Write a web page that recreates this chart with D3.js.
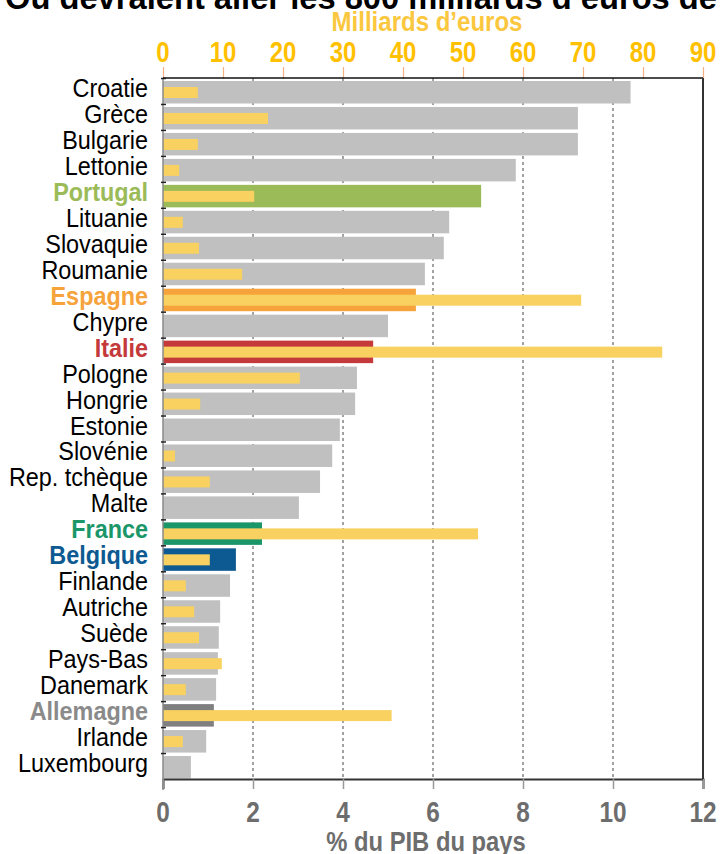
<!DOCTYPE html>
<html>
<head>
<meta charset="utf-8">
<script src="https://cdn.jsdelivr.net/npm/d3@7"></script>
<style>
  body { margin: 0; background: #fff; }
  svg { display: block; font-family: 'Liberation Sans', Arial, sans-serif; }
</style>
</head>
<body>
<div id="chart"></div>
<script>
////////////////////////////////////////////////////////////////////////
// data

let countries = [
  'Croatie', 'Grèce', 'Bulgarie', 'Lettonie', 'Portugal', 'Lituanie',
  'Slovaquie', 'Roumanie', 'Espagne', 'Chypre', 'Italie', 'Pologne',
  'Hongrie', 'Estonie', 'Slovénie', 'Rep. tchèque', 'Malte', 'France',
  'Belgique', 'Finlande', 'Autriche', 'Suède', 'Pays-Bas', 'Danemark',
  'Allemagne', 'Irlande', 'Luxembourg'
]

// % du PIB du pays (bottom axis)
let pibPct = [
  10.39, 9.22, 9.22, 7.84, 7.07, 6.36,
  6.24, 5.82, 5.62, 5.0, 4.67, 4.31,
  4.27, 3.93, 3.76, 3.49, 3.02, 2.2,
  1.62, 1.49, 1.27, 1.24, 1.22, 1.18,
  1.13, 0.96, 0.62
]

// milliards d'euros (top axis), null = no bar
let milliards = [
  5.8, 17.5, 5.8, 2.7, 15.2, 3.3,
  6.0, 13.2, 69.7, null, 83.2, 22.8,
  6.2, null, 2.0, 7.8, null, 52.5,
  7.8, 3.8, 5.2, 6.0, 9.8, 3.8,
  38.1, 3.3, null
]

let pctTicks = [0, 2, 4, 6, 8, 10, 12]
let eurTicks = [0, 10, 20, 30, 40, 50, 60, 70, 80, 90]

let titleText = 'Où devraient aller les 800 milliards d’euros de'
let topTitle = 'Milliards d’euros'
let bottomTitle = '% du PIB du pays'

// countries drawn in their own colour
let highlight = {
  Portugal: '#9BBB59',
  Espagne: '#F6A33B',
  Italie: '#C4393A',
  France: '#1B9669',
  Belgique: '#0D5A92',
  Allemagne: '#7F7F7F'
}
let labelColor = {
  Allemagne: '#8A8A8A'
}

let rows = countries.map(function (c, i) {
  return { country: c, pct: pibPct[i], eur: milliards[i] }
})

////////////////////////////////////////////////////////////////////////
// svg + scales

let width = 722
let height = 854
let plotLeft = 163
let plotRight = 703
let plotTop = 78
let plotBottom = 779

let svg = d3
  .select('#chart')
  .append('svg')
  .attr('width', width)
  .attr('height', height)

let xPct = d3.scaleLinear().domain([0, 12]).range([plotLeft, plotRight])
let xEur = d3.scaleLinear().domain([0, 90]).range([plotLeft, plotRight])
let y = d3.scaleBand().domain(countries).range([plotTop, plotBottom])

// condensed text helper
function ctext (g, x, yy, sx) {
  return g
    .append('text')
    .attr('transform', 'translate(' + x + ',' + yy + ') scale(' + sx + ',1)')
}

// title, mostly cut off by the top edge
svg
  .append('text')
  .attr('x', 5)
  .attr('y', 9)
  .attr('font-size', 34)
  .attr('font-weight', 'bold')
  .attr('fill', '#000')
  .attr('textLength', 712)
  .attr('lengthAdjust', 'spacingAndGlyphs')
  .text(titleText)

////////////////////////////////////////////////////////////////////////
// grid lines

svg
  .append('g')
  .selectAll('line')
  .data([2, 4, 6, 8, 10])
  .enter()
  .append('line')
  .attr('x1', d => xPct(d))
  .attr('x2', d => xPct(d))
  .attr('y1', plotTop)
  .attr('y2', plotBottom)
  .attr('stroke', '#444')
  .attr('stroke-width', 1)
  .attr('stroke-dasharray', '3,3')

////////////////////////////////////////////////////////////////////////
// bars

let bars = svg.append('g')

bars
  .selectAll('.pct')
  .data(rows)
  .enter()
  .append('rect')
  .attr('class', 'pct')
  .attr('x', xPct(0))
  .attr('y', d => y(d.country) + 3)
  .attr('width', d => xPct(d.pct) - xPct(0))
  .attr('height', 22.5)
  .attr('fill', d => highlight[d.country] || '#C0C0C0')

bars
  .selectAll('.eur')
  .data(rows.filter(d => d.eur !== null))
  .enter()
  .append('rect')
  .attr('class', 'eur')
  .attr('x', xEur(0))
  .attr('y', d => y(d.country) + 9)
  .attr('width', d => xEur(d.eur) - xEur(0))
  .attr('height', 11)
  .attr('fill', '#F8D160')

////////////////////////////////////////////////////////////////////////
// frame and axes

// top axis (milliards)
let topAxis = svg
  .append('g')
  .attr('transform', 'translate(0,' + (plotTop + 1) + ')')
  .call(d3.axisTop(xEur).tickValues(eurTicks).tickSize(12).tickFormat(''))
topAxis.select('.domain').remove()
topAxis.selectAll('.tick line').attr('stroke', '#F4B183').attr('stroke-width', 1.2)

eurTicks.forEach(function (t) {
  ctext(svg, xEur(t), 62, 0.8)
    .attr('text-anchor', 'middle')
    .attr('font-size', 30)
    .attr('font-weight', 'bold')
    .attr('fill', '#FFC000')
    .text(t)
})

ctext(svg, 427, 31, 0.89)
  .attr('text-anchor', 'middle')
  .attr('font-size', 27)
  .attr('font-weight', 'bold')
  .attr('fill', '#FAC73E')
  .text(topTitle)

// top frame line
svg
  .append('line')
  .attr('x1', plotLeft)
  .attr('x2', plotRight)
  .attr('y1', plotTop)
  .attr('y2', plotTop)
  .attr('stroke', '#111')
  .attr('stroke-width', 1.5)

// right frame line
svg
  .append('line')
  .attr('x1', plotRight)
  .attr('x2', plotRight)
  .attr('y1', plotTop)
  .attr('y2', plotBottom)
  .attr('stroke', '#333')
  .attr('stroke-width', 2)

// bottom axis (% du PIB)
let bottomAxis = svg
  .append('g')
  .attr('transform', 'translate(0,' + plotBottom + ')')
  .call(d3.axisBottom(xPct).tickValues(pctTicks).tickSize(10).tickFormat(''))
bottomAxis.select('.domain').attr('stroke', '#333').attr('stroke-width', 2)
bottomAxis.selectAll('.tick line').attr('stroke', '#999').attr('stroke-width', 1.5)

pctTicks.forEach(function (t) {
  ctext(svg, xPct(t), 822, 0.84)
    .attr('text-anchor', 'middle')
    .attr('font-size', 29)
    .attr('font-weight', 'bold')
    .attr('fill', '#6D6D6D')
    .text(t)
})

ctext(svg, 426, 851, 0.85)
  .attr('text-anchor', 'middle')
  .attr('font-size', 28)
  .attr('font-weight', 'bold')
  .attr('fill', '#6D6D6D')
  .text(bottomTitle)

// left axis with ticks on the band edges
svg
  .append('line')
  .attr('x1', plotLeft)
  .attr('x2', plotLeft)
  .attr('y1', plotTop)
  .attr('y2', plotBottom + 11)
  .attr('stroke', '#8A8A8A')
  .attr('stroke-width', 1.5)

svg
  .append('g')
  .selectAll('line')
  .data(countries)
  .enter()
  .append('line')
  .attr('x1', plotLeft - 2)
  .attr('x2', plotLeft + 3)
  .attr('y1', d => y(d) + 0.5)
  .attr('y2', d => y(d) + 0.5)
  .attr('stroke', '#222')
  .attr('stroke-width', 1.5)

// country labels
rows.forEach(function (d) {
  ctext(svg, 148, y(d.country) + 19, 0.9)
    .attr('text-anchor', 'end')
    .attr('font-size', 26)
    .attr('font-weight', highlight[d.country] ? 'bold' : 'normal')
    .attr('fill', labelColor[d.country] || highlight[d.country] || '#000')
    .text(d.country)
})
</script>
</body>
</html>
